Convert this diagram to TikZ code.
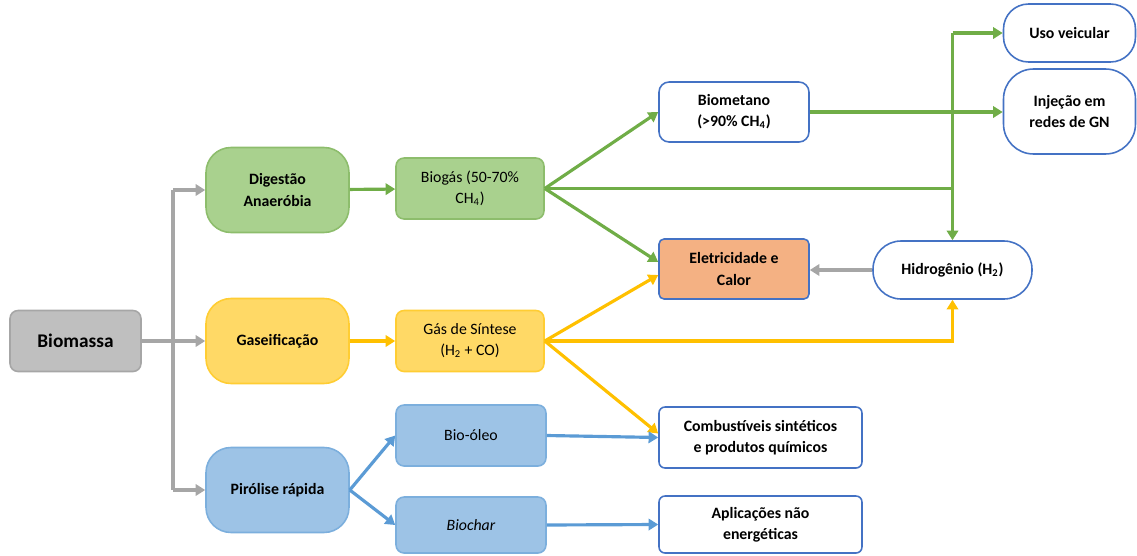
\documentclass[tikz,border=0pt]{standalone}
\usepackage{fontspec}
\setmainfont{Carlito}
\usetikzlibrary{arrows.meta,positioning}
\definecolor{grn}{HTML}{70AD47}
\definecolor{grnfill}{HTML}{A9D18E}
\definecolor{yel}{HTML}{FFC000}
\definecolor{yelfill}{HTML}{FFD966}
\definecolor{blu}{HTML}{5B9BD5}
\definecolor{blufill}{HTML}{9DC3E6}
\definecolor{gry}{HTML}{A6A6A6}
\definecolor{gryfill}{HTML}{BFBFBF}
\definecolor{orn}{HTML}{F4B183}
\definecolor{edge}{HTML}{4472C4}
\begin{document}
\begin{tikzpicture}[x=0.02cm,y=-0.02cm,
	box/.style={draw,line width=0.9pt,inner sep=1pt,align=center,
		font=\fontsize{9}{12}\selectfont},
	proc/.style={box,minimum width=2.86cm,minimum height=1.7cm,rounded corners=0.5cm,
		font=\fontsize{9}{12}\selectfont\bfseries},
	prod/.style={box,minimum width=2.96cm,minimum height=1.22cm,rounded corners=0.16cm},
	useb/.style={box,fill=white,draw=edge,font=\fontsize{9}{12}\selectfont\bfseries},
	con/.style={line width=1.8pt},
	arr/.style={con,-{Triangle[length=5.5pt,width=6.5pt]}}]
\useasboundingbox (0,0) rectangle (1137,555);

\node[box,fill=gryfill,draw=gry,minimum width=2.62cm,minimum height=1.22cm,
	rounded corners=0.16cm,font=\fontsize{11}{13}\selectfont\bfseries] (bio) at (75.5,341) {Biomassa};

\node[proc,fill=grnfill,draw=grn!80] (dig) at (277.5,190) {Digestão\\Anaeróbia};
\node[proc,fill=yelfill,draw=yel!80] (gas) at (277.5,341) {Gaseificação};
\node[proc,fill=blufill,draw=blu!80] (pir) at (277.5,490) {Pirólise rápida};

\node[prod,fill=grnfill,draw=grn!80] (biogas) at (470,188.5) {Biogás (50-70\%\\CH\textsubscript{4})};
\node[prod,fill=yelfill,draw=yel!80] (sint) at (470,341) {Gás de Síntese\\(H\textsubscript{2} + CO)};
\node[prod,fill=blufill,draw=blu!80,minimum width=3cm] (oleo) at (471,435.5) {Bio-óleo};
\node[prod,fill=blufill,draw=blu!80,minimum width=3cm,minimum height=1.12cm] (char) at (471,525) {\itshape Biochar};

\node[useb,minimum width=3cm,minimum height=1.2cm,rounded corners=0.2cm] (biomet) at (734,112) {Biometano\\(>90\% CH\textsubscript{4})};
\node[useb,fill=orn,minimum width=3cm,minimum height=1.2cm,rounded corners=0.1cm] (elet) at (734,269) {Eletricidade e\\Calor};
\node[useb,minimum width=3.18cm,minimum height=1.16cm,rounded corners=0.56cm] (hidro) at (952.5,270) {Hidrogênio (H\textsubscript{2})};
\node[useb,minimum width=2.64cm,minimum height=1.16cm,rounded corners=0.5cm] (uso) at (1069.5,33) {Uso veicular};
\node[useb,minimum width=2.64cm,minimum height=1.7cm,rounded corners=0.6cm] (inj) at (1069.5,111.5) {Injeção em\\redes de GN};
\node[useb,minimum width=4.06cm,minimum height=1.22cm,rounded corners=0.12cm] (comb) at (760.5,437.5) {Combustíveis sintéticos\\e produtos químicos};
\node[useb,minimum width=4.06cm,minimum height=1.14cm,rounded corners=0.12cm] (apl) at (760.5,524.5) {Aplicações não\\energéticas};

\coordinate (tr) at (173,341);
\coordinate (jg) at (953,188.5);

% biomassa
\draw[con,gry] (bio.east) -- (tr);
\draw[con,gry] (tr |- dig) -- (tr |- pir);
\draw[arr,gry] (tr |- dig) -- (dig.west);
\draw[arr,gry] (tr) -- (gas.west);
\draw[arr,gry] (tr |- pir) -- (pir.west);

% digestao
\draw[arr,grn] (dig) -- (biogas);
\draw[arr,grn] (biogas.east) -- (biomet.west);
\draw[arr,grn] (biogas.east) -- ([yshift=0.14cm]elet.west);
\draw[con,grn] (biogas.east) -- (jg);
\draw[arr,grn] (hidro.north |- uso) -- (uso.west);
\draw[arr,grn] (hidro.north |- uso) -- (hidro.north);
\draw[arr,grn] (biomet.east) -- (biomet.east -| inj.west);

% gaseificacao
\draw[arr,yel] (gas) -- (sint);
\draw[arr,yel] (sint.east) -- ([yshift=-0.12cm]elet.west);
\draw[arr,yel] (sint.east) -- (sint.east -| hidro.south) -- (hidro.south);
\draw[arr,yel] (sint.east) -- ([yshift=0.08cm]comb.west);

% pirolise
\draw[arr,blu] (pir.east) -- (oleo.west);
\draw[arr,blu] (pir.east) -- (char.west);
\draw[arr,blu] (oleo.east) -- (comb.west);
\draw[arr,blu] (char.east) -- (apl.west);

\draw[arr,gry] (hidro.west) -- (hidro.west -| elet.east);
\end{tikzpicture}
\end{document}
